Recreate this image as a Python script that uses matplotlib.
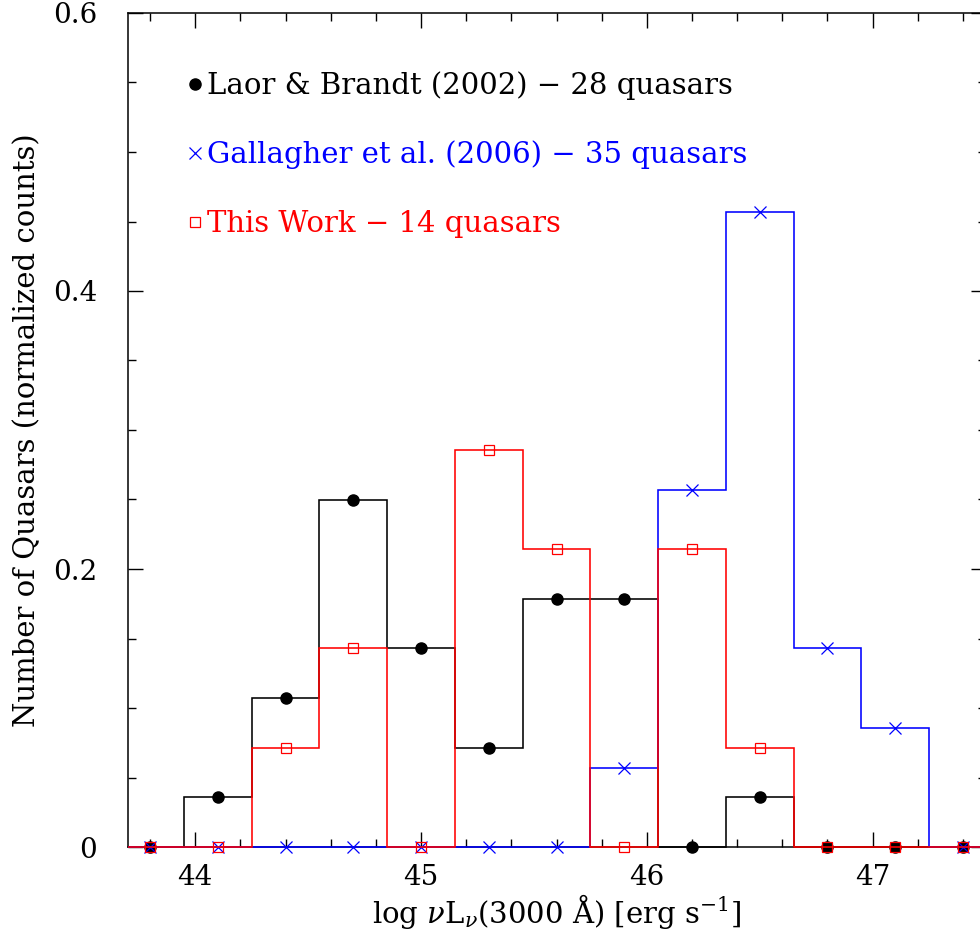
"""
Histograma normalizado de luminosidade log nuL_nu(3000 A) para tres amostras
de quasares (Laor & Brandt 2002, Gallagher et al. 2006, este trabalho).
"""
import matplotlib
matplotlib.use("Agg")
import matplotlib.pyplot as plt
from matplotlib.transforms import Bbox, TransformedBbox
from matplotlib.ticker import MultipleLocator, FuncFormatter

# bordas dos bins (largura 0.3 dex) e centros
BORDAS = [43.65, 43.95, 44.25, 44.55, 44.85, 45.15, 45.45,
          45.75, 46.05, 46.35, 46.65, 46.95, 47.25, 47.55]
CENTROS = [43.8, 44.1, 44.4, 44.7, 45.0, 45.3, 45.6,
           45.9, 46.2, 46.5, 46.8, 47.1, 47.4]

# contagens por bin (normalizadas pelo total da amostra)
N_LAOR = 28
CONT_LAOR = [0, 1, 3, 7, 4, 2, 5, 5, 0, 1, 0, 0, 0]
N_GALL = 35
CONT_GALL = [0, 0, 0, 0, 0, 0, 0, 2, 9, 16, 5, 3, 0]
N_ESTE = 14
CONT_ESTE = [0, 0, 1, 2, 0, 4, 3, 0, 3, 1, 0, 0, 0]

ROTULOS = ["Laor & Brandt (2002) \u2212 28 quasars",
           "Gallagher et al. (2006) \u2212 35 quasars",
           "This Work \u2212 14 quasars"]

plt.rcParams["font.family"] = ["DejaVu Serif"]
plt.rcParams["mathtext.fontset"] = "dejavuserif"

FS = 21      # rotulos e legenda
FS_TICK = 20

fig = plt.figure(figsize=(9.8, 9.39), dpi=100)
ax = fig.add_axes([127.5 / 980, 92 / 939, 858 / 980, 834 / 939])

# caixa de recorte um pouco abaixo de y=0 para as linhas na base
clip = TransformedBbox(Bbox([[0, -0.004], [1, 1]]), ax.transAxes)

series = [
    (CONT_LAOR, N_LAOR, "black", dict(marker="o", ms=8, mfc="black", mec="black")),
    (CONT_GALL, N_GALL, "#0000ff", dict(marker="x", ms=8, mew=0.9)),
    (CONT_ESTE, N_ESTE, "#ff0000", dict(marker="s", ms=7.5, mfc="none", mew=0.9)),
]

handles = []
for i, (cont, n, cor, estilo) in enumerate(series):
    frac = [c / n for c in cont]
    st = ax.stairs(frac, BORDAS, color=cor, lw=1.15, zorder=3 + i)
    st.set_clip_box(clip)
    ln, = ax.plot(CENTROS, frac, ls="none", color=cor, zorder=3.5 + i,
                  clip_on=False, **estilo)
    ln.set_label(ROTULOS[i])
    handles.append(ln)

ax.set_xlim(43.7, 47.5)
ax.set_ylim(0, 0.6)

ax.xaxis.set_major_locator(MultipleLocator(1))
ax.xaxis.set_minor_locator(MultipleLocator(0.2))
ax.yaxis.set_major_locator(MultipleLocator(0.2))
ax.yaxis.set_minor_locator(MultipleLocator(0.05))
ax.yaxis.set_major_formatter(FuncFormatter(lambda v, p: "0" if abs(v) < 1e-9 else f"{v:.1f}"))

ax.tick_params(which="both", direction="in", top=True, right=True,
               labelsize=FS_TICK, width=1.0)
ax.tick_params(which="major", length=11)
ax.tick_params(which="minor", length=6)
ax.tick_params(axis="x", which="major", pad=12)
ax.tick_params(axis="y", which="major", pad=22)
for s in ax.spines.values():
    s.set_linewidth(1.1)

ax.set_xlabel(r"log $\nu$L$_\nu$(3000 Å) [erg s$^{-1}$]", fontsize=FS, labelpad=1)
ax.set_ylabel("Number of Quasars (normalized counts)", fontsize=FS, labelpad=8)

leg = ax.legend(handles=handles, loc="upper left", bbox_to_anchor=(0.0717, 0.9304),
                frameon=False, fontsize=FS, handlelength=0.4, handletextpad=0.2,
                labelspacing=1.39, borderaxespad=0, borderpad=0)
for txt, (_, _, cor, _) in zip(leg.get_texts(), series):
    txt.set_color(cor)

fig.savefig("out.png", facecolor="white")
